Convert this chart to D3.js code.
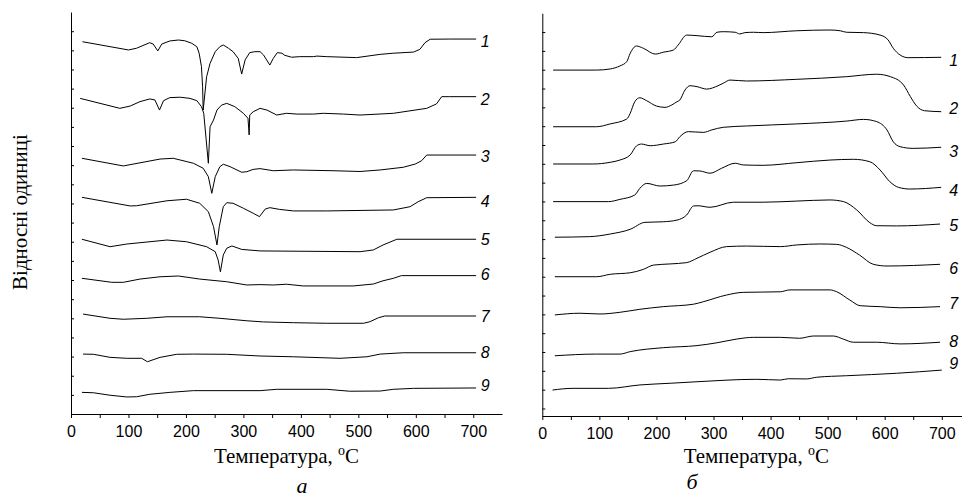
<!DOCTYPE html>
<html>
<head>
<meta charset="utf-8">
<script src="https://cdnjs.cloudflare.com/ajax/libs/d3/7.8.5/d3.min.js"></script>
<style>
  body { margin: 0; background: #fff; }
  .axis path, .axis line { stroke: #000; stroke-width: 1; }
  .axis text { font-family: "Liberation Sans", Arial, sans-serif; font-size: 16px; fill: #000; }
  .curve { fill: none; stroke: #000; stroke-width: 1; }
  .num { font-family: "Liberation Sans", Arial, sans-serif; font-style: italic; font-size: 16px; }
  .title { font-family: "Liberation Serif", "Times New Roman", serif; font-size: 21px; }
  .letter { font-family: "Liberation Serif", "Times New Roman", serif; font-style: italic; font-size: 22px; }
</style>
</head>
<body>
<script>
let w = 962, h = 497;

// Panel а: [temperature °C, relative units]
let a1 = [[20,19.45],[100,19.02],[114,19.11],[137,19.40],[143,19.33],[151,18.97],[158,19.33],[172,19.49],[187,19.54],[198,19.50],[210,19.37],[219,19.19],[223,18.85],[227,18.15],[229,17.10],[230,15.88],[236,17.62],[242,18.32],[251,18.93],[259,19.19],[265,19.28],[274,19.11],[282,18.93],[291,18.58],[297,17.76],[303,18.50],[311,18.88],[320,18.93],[329,18.93],[335,18.76],[346,18.23],[352,18.58],[359,18.88],[367,18.85],[372,18.74],[384,18.64],[398,18.67],[422,18.67],[428,18.70],[445,18.67],[497,18.62],[538,18.79],[561,18.85],[596,18.91],[607,19.05],[616,19.40],[625,19.58],[659,19.59],[705,19.59]];
let a2 = [[16,16.49],[85,15.97],[103,16.09],[120,16.32],[137,16.46],[146,16.41],[154,15.88],[161,16.37],[172,16.53],[190,16.55],[207,16.49],[219,16.37],[227,16.06],[231,15.71],[239,13.10],[242,15.01],[248,15.36],[254,15.88],[262,16.14],[271,16.23],[285,16.06],[300,15.71],[308,15.45],[310,14.58],[311,15.62],[317,15.79],[329,15.97],[341,15.88],[358,15.62],[375,15.71],[393,15.67],[422,15.67],[439,15.71],[474,15.67],[503,15.62],[561,15.71],[619,15.97],[636,16.20],[645,16.58],[659,16.58],[705,16.58]];
let a3 = [[19,13.36],[91,12.96],[155,13.32],[178,13.36],[213,13.10],[230,12.84],[239,12.40],[245,11.53],[251,12.40],[259,12.92],[265,13.05],[277,12.92],[297,12.63],[306,12.66],[317,12.78],[329,12.82],[352,12.71],[387,12.75],[456,12.71],[503,12.67],[538,12.75],[578,12.89],[599,13.06],[610,13.23],[619,13.53],[705,13.53]];
let a4 = [[19,11.32],[103,10.87],[114,10.88],[167,11.14],[201,11.22],[224,11.01],[239,10.57],[248,9.79],[254,8.83],[258,9.79],[265,10.83],[271,11.04],[282,11.01],[300,10.75],[317,10.49],[328,10.31],[338,10.71],[346,10.78],[363,10.69],[387,10.61],[445,10.61],[561,10.66],[590,10.83],[604,11.09],[619,11.30],[705,11.32]];
let a5 = [[19,9.13],[68,8.74],[97,8.88],[167,9.09],[201,9.00],[236,8.74],[251,8.48],[256,8.05],[260,7.43],[265,8.31],[271,8.66],[280,8.78],[297,8.60],[329,8.52],[503,8.48],[526,8.57],[543,8.83],[567,9.13],[705,9.13]];
let a6 = [[19,7.09],[71,6.88],[91,6.88],[120,7.05],[155,7.17],[187,7.21],[224,7.05],[271,6.91],[306,6.74],[329,6.76],[352,6.74],[375,6.78],[404,6.69],[491,6.69],[526,6.79],[543,6.96],[561,7.09],[575,7.23],[705,7.23]];
let a7 = [[21,5.22],[68,5.00],[91,4.95],[132,5.00],[167,5.08],[224,5.08],[259,5.00],[306,4.87],[335,4.81],[387,4.77],[445,4.74],[509,4.74],[520,4.82],[535,5.03],[546,5.12],[705,5.12]];
let a8 = [[21,3.13],[39,3.12],[68,2.96],[97,2.91],[123,2.91],[133,2.73],[155,2.96],[184,3.12],[213,3.13],[271,3.12],[329,3.03],[387,2.99],[468,2.91],[515,2.99],[538,3.13],[578,3.20],[705,3.20]];
let a9 = [[19,1.13],[39,1.11],[68,0.98],[97,0.89],[114,0.90],[137,1.03],[172,1.13],[213,1.22],[329,1.22],[358,1.29],[445,1.29],[485,1.19],[538,1.20],[561,1.29],[596,1.34],[705,1.36]];

// Panel б
let b1 = [[19,17.98],[95,17.98],[119,18.04],[136,18.20],[148,18.43],[154,18.87],[165,19.26],[177,19.14],[198,18.83],[212,18.93],[230,19.05],[238,19.31],[253,19.84],[271,19.81],[297,19.75],[306,19.99],[317,20.02],[338,19.99],[346,19.90],[355,19.97],[370,19.99],[387,19.97],[446,20.07],[504,20.11],[522,20.07],[533,19.99],[563,19.97],[592,19.84],[606,19.58],[615,19.14],[627,18.78],[641,18.64],[699,18.66]];
let b2 = [[19,14.97],[95,14.97],[119,15.12],[148,15.38],[154,15.68],[162,16.30],[171,16.51],[183,16.35],[200,16.07],[215,16.00],[227,16.13],[236,16.30],[241,16.39],[250,16.92],[259,17.15],[271,17.10],[288,16.97],[308,17.15],[317,17.28],[329,17.45],[358,17.40],[446,17.49],[533,17.63],[586,17.76],[610,17.63],[633,17.19],[645,16.57],[656,16.07],[670,15.82],[699,15.77]];
let b3 = [[19,12.99],[89,12.99],[119,13.08],[136,13.20],[154,13.47],[165,13.95],[174,14.05],[189,13.96],[212,14.05],[233,14.17],[241,14.44],[256,14.71],[282,14.67],[297,14.80],[317,14.94],[358,15.01],[446,15.12],[533,15.27],[563,15.36],[586,15.24],[604,14.80],[615,14.17],[627,13.91],[650,13.82],[699,13.88]];
let b4 = [[19,10.99],[116,10.99],[136,11.11],[162,11.34],[171,11.70],[183,11.96],[206,11.82],[230,11.87],[253,12.10],[265,12.63],[276,12.62],[294,12.50],[314,12.76],[338,13.03],[352,12.94],[387,12.92],[446,13.06],[504,13.20],[545,13.24],[574,13.11],[592,12.67],[609,12.05],[624,11.75],[644,11.66],[699,11.75]];
let b5 = [[22,9.10],[83,9.13],[119,9.27],[154,9.52],[180,9.89],[212,9.92],[236,10.01],[253,10.28],[265,10.76],[273,10.77],[294,10.69],[335,10.96],[387,10.96],[446,11.02],[504,11.08],[528,10.99],[551,10.55],[574,9.87],[586,9.71],[621,9.70],[697,9.80]];
let b6 = [[22,7.00],[95,7.00],[119,7.13],[154,7.21],[177,7.39],[195,7.62],[224,7.68],[253,7.75],[271,7.98],[294,8.30],[323,8.60],[358,8.63],[417,8.60],[446,8.69],[487,8.74],[516,8.72],[533,8.56],[556,8.15],[580,7.66],[604,7.57],[697,7.66]];
let b7 = [[22,4.97],[66,5.06],[101,5.02],[136,5.11],[171,5.27],[212,5.41],[265,5.54],[282,5.67],[323,6.03],[352,6.17],[417,6.20],[434,6.30],[504,6.30],[516,6.20],[539,5.76],[557,5.46],[592,5.41],[627,5.35],[697,5.41]];
let b8 = [[22,2.80],[95,2.89],[136,2.89],[154,3.02],[212,3.23],[271,3.34],[306,3.49],[341,3.69],[370,3.78],[417,3.78],[451,3.73],[475,3.85],[510,3.85],[528,3.68],[545,3.52],[586,3.52],[627,3.43],[697,3.52]];
let b9 = [[18,0.98],[54,1.07],[116,1.07],[171,1.25],[224,1.34],[271,1.42],[376,1.55],[417,1.51],[431,1.58],[463,1.57],[481,1.66],[533,1.74],[621,1.87],[700,2.04]];

let curveNames = ["1", "2", "3", "4", "5", "6", "7", "8", "9"];
// label heights (relative units)
let labelsA = [19.45, 16.46, 13.44, 11.09, 9.13, 7.31, 5.12, 3.20, 1.52];
let labelsB = [18.52, 15.95, 13.64, 11.57, 9.75, 7.45, 5.59, 3.55, 2.40];

let majorTicks = d3.range(0, 701, 100);
let minorTicks = d3.range(50, 700, 100);
let yTicks = d3.range(0, 21, 1);

let svg = d3.select("body")
  .append("svg")
  .attr("width", w)
  .attr("height", h);

function drawPanel(p) {
  let xScale = d3.scaleLinear().domain([0, 750]).range(p.xr);
  let yScale = d3.scaleLinear().domain(p.yd).range(p.yr);

  let line = d3.line()
    .x(d => xScale(d[0]))
    .y(d => yScale(d[1]))
    .curve(p.curve);

  let g = svg.append("g");

  g.selectAll("path.curve")
    .data(p.curves)
    .enter()
    .append("path")
    .attr("class", "curve")
    .attr("d", line);

  g.selectAll("text.num")
    .data(p.labels)
    .enter()
    .append("text")
    .attr("class", "num")
    .attr("x", xScale(713))
    .attr("y", d => yScale(d))
    .attr("dy", "0.35em")
    .text((d, i) => curveNames[i]);

  // x axis, major + minor ticks
  g.append("g")
    .attr("class", "axis")
    .attr("transform", "translate(0," + p.yr[0] + ")")
    .call(d3.axisBottom(xScale).tickValues(majorTicks).tickSize(4).tickSizeOuter(0).tickPadding(8));

  g.append("g")
    .attr("class", "axis")
    .attr("transform", "translate(0," + p.yr[0] + ")")
    .call(d3.axisBottom(xScale).tickValues(minorTicks).tickSize(4).tickFormat(""))
    .select(".domain").remove();

  // y axis, no labels, inward ticks
  g.append("g")
    .attr("class", "axis")
    .attr("transform", "translate(" + p.xr[0] + ",0)")
    .call(d3.axisLeft(yScale).tickValues(yTicks).tickSize(-3).tickSizeOuter(0).tickFormat(""));

  let t = g.append("text")
    .attr("class", "title")
    .attr("x", xScale(375))
    .attr("y", 463)
    .attr("text-anchor", "middle");
  t.append("tspan").text("Температура, ");
  t.append("tspan").attr("font-size", "14px").attr("dy", -8).text("o");
  t.append("tspan").attr("dy", 8).text("C");

  g.append("text")
    .attr("class", "letter")
    .attr("x", p.letterX)
    .attr("y", p.letterY)
    .attr("text-anchor", "middle")
    .text(p.letter);
}

drawPanel({
  xr: [71, 502], yd: [0, 21], yr: [414, 12.06],
  curves: [a1, a2, a3, a4, a5, a6, a7, a8, a9],
  labels: labelsA, curve: d3.curveLinear,
  letter: "а", letterX: 302, letterY: 493
});

drawPanel({
  xr: [542.3, 970.3], yd: [-0.4, 21], yr: [416, 13.25],
  curves: [b1, b2, b3, b4, b5, b6, b7, b8, b9],
  labels: labelsB, curve: d3.curveMonotoneX,
  letter: "б", letterX: 692, letterY: 489
});

svg.append("text")
  .attr("class", "title")
  .attr("transform", "translate(26.5,212) rotate(-90)")
  .attr("text-anchor", "middle")
  .text("Відносні одиниці");
</script>
</body>
</html>
